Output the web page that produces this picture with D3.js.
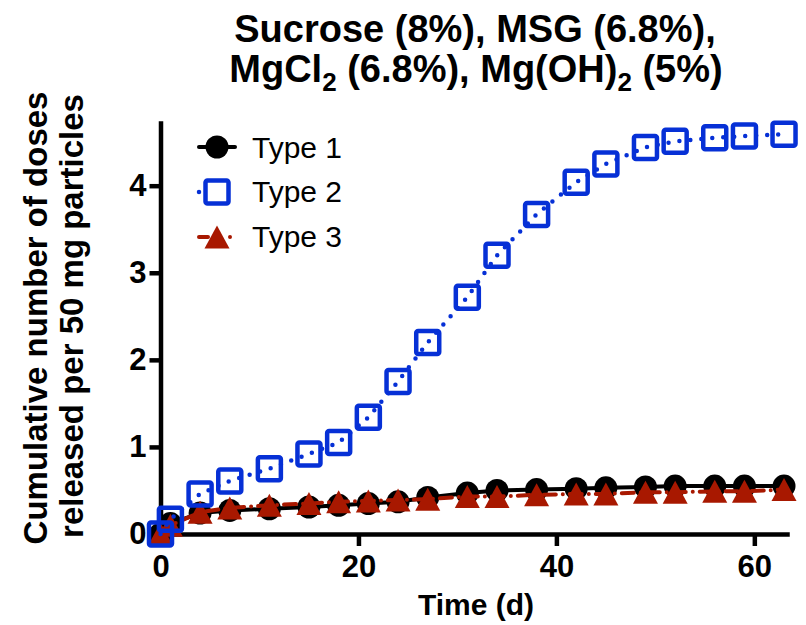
<!DOCTYPE html>
<html><head><meta charset="utf-8">
<script src="https://cdn.jsdelivr.net/npm/d3@7"></script>
<style>body{margin:0;background:#fff}</style>
</head><body><svg id="chart" width="806" height="625"></svg>
<script>
const days = [0,1,4,7,11,15,18,21,24,27,31,34,38,42,45,49,52,56,59,63];
const type1 = [0,0.12,0.24,0.27,0.29,0.31,0.33,0.35,0.37,0.42,0.47,0.50,0.51,0.52,0.53,0.54,0.55,0.55,0.55,0.55];
const type2 = [0,0.17,0.46,0.61,0.75,0.92,1.05,1.34,1.75,2.20,2.72,3.20,3.67,4.04,4.25,4.44,4.51,4.55,4.57,4.59];
const type3 = [0,0.10,0.25,0.30,0.33,0.35,0.37,0.38,0.39,0.40,0.43,0.43,0.45,0.46,0.46,0.48,0.48,0.49,0.49,0.51];
const seriesNames = ["Type 1","Type 2","Type 3"];
const xTicks = [0,20,40,60];
const yTicks = [0,1,2,3,4];
const xLabel = "Time (d)";
const yLabel1 = "Cumulative number of doses";
const yLabel2 = "released per 50 mg particles";

const BLUE = "#0630d6", RED = "#a81800", BLACK = "#000";
const FONT = "'Liberation Sans', Arial, sans-serif";

const svg = d3.select("#chart");
svg.append("rect").attr("width",806).attr("height",625).attr("fill","#fff");

const x = d3.scaleLinear().domain([0,63.3]).range([160.5,787]);
const y = d3.scaleLinear().domain([0,4.72]).range([534,123]);

// axes
const xAxis = svg.append("g").attr("transform","translate(0,534)")
  .call(d3.axisBottom(x).tickValues(xTicks).tickFormat(d3.format("d")).tickSize(12).tickSizeOuter(0).tickPadding(9));
const yAxis = svg.append("g").attr("transform","translate(160.5,0)")
  .call(d3.axisLeft(y).tickValues(yTicks).tickFormat(d3.format("d")).tickSize(11).tickSizeOuter(0).tickPadding(3));
[xAxis,yAxis].forEach(a=>{
  a.selectAll("path,line").attr("stroke","#000").attr("stroke-width",4.5);
  a.select("path.domain").attr("stroke-linecap","square");
  a.selectAll("text").attr("font-family",FONT).attr("font-weight","bold").attr("font-size",31).attr("fill","#000");
});

// axis titles
svg.append("text").attr("x",476).attr("y",615).attr("text-anchor","middle")
  .attr("font-family",FONT).attr("font-weight","bold").attr("font-size",30).text(xLabel);
svg.append("text").attr("transform","translate(47,318) rotate(-90)").attr("text-anchor","middle")
  .attr("font-family",FONT).attr("font-weight","bold").attr("font-size",33).text(yLabel1);
svg.append("text").attr("transform","translate(83,316) rotate(-90)").attr("text-anchor","middle")
  .attr("font-family",FONT).attr("font-weight","bold").attr("font-size",33).text(yLabel2);

// title
const t1 = svg.append("text").attr("x",475).attr("y",42).attr("text-anchor","middle")
  .attr("font-family",FONT).attr("font-weight","bold").attr("font-size",38);
t1.text("Sucrose (8%), MSG (6.8%),");
const t2 = svg.append("text").attr("x",476).attr("y",82).attr("text-anchor","middle")
  .attr("font-family",FONT).attr("font-weight","bold").attr("font-size",38);
t2.append("tspan").text("MgCl");
t2.append("tspan").attr("dy",9).attr("font-size",26).text("2");
t2.append("tspan").attr("dy",-9).text(" (6.8%), Mg(OH)");
t2.append("tspan").attr("dy",9).attr("font-size",26).text("2");
t2.append("tspan").attr("dy",-9).text(" (5%)");

// marker helpers
function triPath(w,h){return `M0,${-h/2}L${w/2},${h/2}L${-w/2},${h/2}Z`;}
function drawMarker(g,type,cx,cy){
  if(type===0){
    g.append("circle").attr("cx",cx).attr("cy",cy).attr("r",11.5).attr("fill",BLACK);
  } else if(type===1){
    g.append("rect").attr("x",cx-11.5).attr("y",cy-11.5).attr("width",23).attr("height",23)
      .attr("rx",2).attr("fill","none").attr("stroke",BLUE).attr("stroke-width",4.5);
  } else {
    g.append("path").attr("transform",`translate(${cx},${cy})`).attr("d",triPath(25,23)).attr("fill",RED);
  }
}
const lineStyles = [
  {stroke:BLACK,width:4,dash:null,cap:"butt"},
  {stroke:BLUE,width:4.5,dash:"0 11",cap:"round"},
  {stroke:RED,width:4,dash:"12 7 0 7",cap:"round"}
];
const allSeries = [type1,type2,type3];
const line = d3.line().x(d=>x(d[0])).y(d=>y(d[1]));

const drawOrder = [0,2,1];
drawOrder.forEach(i=>{
  const g = svg.append("g");
  const pts = days.map((d,k)=>[d,allSeries[i][k]]);
  const st = lineStyles[i];
  g.append("path").attr("d",line(pts)).attr("fill","none").attr("stroke",st.stroke)
    .attr("stroke-width",st.width).attr("stroke-linecap",st.cap)
    .attr("stroke-dasharray",st.dash);
  pts.forEach(p=>drawMarker(g,i,x(p[0]),y(p[1])));
});

// legend
const legY = [147,192,237];
const legBase = [158,202,247];
seriesNames.forEach((name,i)=>{
  const g = svg.append("g");
  const st = lineStyles[i];
  g.append("path").attr("d",`M199,${legY[i]}L235,${legY[i]}`).attr("fill","none").attr("stroke",st.stroke)
    .attr("stroke-width",st.width).attr("stroke-linecap",st.cap==="butt"?"round":st.cap)
    .attr("stroke-dasharray",i===1?"0 36":(i===2?"9 22 0 10":null));
  drawMarker(g,i,217,legY[i]);
  g.append("text").attr("x",252).attr("y",legBase[i]).attr("font-family",FONT).attr("font-size",30).text(name);
});
</script></body></html>
